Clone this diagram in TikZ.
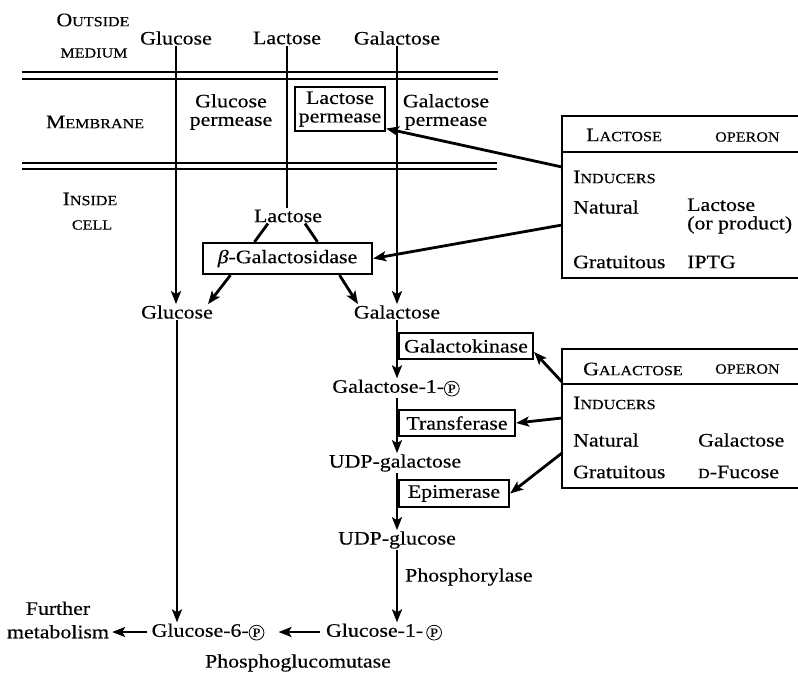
\documentclass[tikz,border=0pt]{standalone}
\usepackage{fontspec}
\setmainfont[FakeStretch=1.15,FakeBold=0.4]{Liberation Serif}
\usetikzlibrary{arrows.meta,calc}
\newcommand{\bodyf}{\fontsize{19}{18.5}\selectfont}
\newcommand{\capi}[2]{{\fontsize{19}{19}\selectfont #1\fontsize{14}{14}\selectfont #2}}
\newcommand{\scp}[1]{{\fontsize{14}{14}\selectfont #1}}
\newcommand{\circP}{\tikz[baseline=(cp.base)]\node[circle, draw, line width=0.8pt, inner sep=1.2pt, font=\fontsize{12.5}{12.5}\selectfont] (cp) {P};}
\begin{document}
\begin{tikzpicture}[x=1pt,y=-1pt,
  lbl/.style={font=\bodyf, inner sep=1pt, align=center},
  enz/.style={draw, line width=2.2pt, font=\bodyf, inner sep=0pt, align=center},
  flow/.style={line width=2.8pt, -{Stealth[length=13pt,width=10pt,inset=3pt]}},
  plain/.style={line width=2.8pt},
  mem/.style={line width=2.6pt},
  boxline/.style={line width=2.2pt}]
\useasboundingbox (0,0) rectangle (798,673);

% membrane
\draw[mem] (22,72) -- (498,72);
\draw[mem] (22,79) -- (498,79);
\draw[mem] (22,163) -- (497,163);
\draw[mem] (22,169) -- (497,169);

% labels outside / membrane / inside
\node[lbl] (outside) at (93,20) {\capi{O}{UTSIDE}};
\node[lbl] (medium) at (94,53) {\scp{MEDIUM}};
\node[lbl] (membrane) at (95,122) {\capi{M}{EMBRANE}};
\node[lbl] (inside) at (90,199) {\capi{I}{NSIDE}};
\node[lbl] (cell) at (92,225) {\scp{CELL}};

\node[lbl] (gluTop) at (176,38) {Glucose};
\node[lbl] (lacTop) at (287,38) {Lactose};
\node[lbl] (galTop) at (397,38) {Galactose};

\node[lbl] (gperm) at (231,112) {Glucose\\permease};
\node[enz, minimum width=90, minimum height=44] (lperm) at (340,109) {Lactose\\permease};
\node[lbl] (galperm) at (446,112) {Galactose\\permease};

\node[lbl] (lacIn) at (288,216) {Lactose};
\node[enz, minimum width=169, minimum height=31] (bgal) at (287.5,258.5) {{\itshape β}-Galactosidase};
\node[lbl] (gluIn) at (177,312) {Glucose};
\node[lbl] (galIn) at (397,312) {Galactose};

\node[enz, minimum width=134, minimum height=26] (gkin) at (466,346) {Galactokinase};
\node[lbl] (g1p) at (396,388) {Galactose-1-\circP};
\node[enz, minimum width=116, minimum height=26] (tran) at (457,423) {Transferase};
\node[lbl] (udpgal) at (395,463) {UDP-galactose};
\node[enz, minimum width=110, minimum height=27] (epi) at (454,493.5) {Epimerase};
\node[lbl] (udpglu) at (397,540) {UDP-glucose};
\node[lbl, anchor=west] (phos) at (404,577) {Phosphorylase};
\node[lbl] (glu1p) at (384,632) {Glucose-1-\,\circP};
\node[lbl] (glu6p) at (208,632) {Glucose-6-\circP};
\node[lbl] (further) at (58,620) {Further\\[5pt]metabolism};
\node[lbl] (pgm) at (298,663) {Phosphoglucomutase};

% lactose operon box
\node[minimum width=236, minimum height=162, anchor=north west, inner sep=0pt, outer sep=0pt] (lacop) at (562,116) {};
\draw[boxline] (lacop.north east) -- (lacop.north west) -- (lacop.south west) -- (lacop.south east);
\draw[boxline] (562,152) -- (798,152);
\node[lbl, anchor=west] (lacT) at (585,135) {\capi{L}{ACTOSE}};
\node[lbl, anchor=west] (lacO) at (714,137) {\scp{OPERON}};
\node[lbl, anchor=west] (lacI) at (572,177) {\capi{I}{NDUCERS}};
\node[lbl, anchor=west] (lacN) at (572,207) {Natural};
\node[lbl, anchor=west, align=left] (lacNv) at (686,216) {Lactose\\(or product)};
\node[lbl, anchor=west] (lacG) at (572,262) {Gratuitous};
\node[lbl, anchor=west] (lacGv) at (686,262) {IPTG};

% galactose operon box
\node[minimum width=236, minimum height=139, anchor=north west, inner sep=0pt, outer sep=0pt] (galop) at (562,349) {};
\draw[boxline] (galop.north east) -- (galop.north west) -- (galop.south west) -- (galop.south east);
\draw[boxline] (562,384) -- (798,384);
\node[lbl, anchor=west] (galT) at (582,369) {\capi{G}{ALACTOSE}};
\node[lbl, anchor=west] (galO) at (714,369) {\scp{OPERON}};
\node[lbl, anchor=west] (galI) at (572,403) {\capi{I}{NDUCERS}};
\node[lbl, anchor=west] (galN) at (572,440) {Natural};
\node[lbl, anchor=west] (galNv) at (697,440) {Galactose};
\node[lbl, anchor=west] (galG) at (572,472) {Gratuitous};
\node[lbl, anchor=west] (galGv) at (697,472) {\scp{D}-Fucose};

\coordinate (la1) at (562,167);
\coordinate (la2) at (562,225);
\coordinate (ga1) at (562,382);
\coordinate (ga2) at (562,418);
\coordinate (ga3) at (562,453);

% main vertical paths
\draw[flow] (gluTop.south) -- (gluTop.south |- gluIn.north);
\draw[plain] (lacTop.south) -- (lacTop.south |- lacIn.north);
\draw[flow] (galTop.south) -- (galTop.south |- galIn.north);

\draw[plain] ([xshift=-20pt]lacIn.south) -- ([xshift=-33pt]bgal.north);
\draw[plain] ([xshift=17pt]lacIn.south) -- ([xshift=30pt]bgal.north);
\draw[flow] ([xshift=-57pt]bgal.south) -- ([xshift=31pt]gluIn.north);
\draw[flow] ([xshift=52pt]bgal.south) -- ([xshift=-39pt]galIn.north);

\draw[flow] (galIn.south) -- (galIn.south |- g1p.north);
\draw[flow] (galIn.south |- g1p.south) -- (galIn.south |- udpgal.north);
\draw[flow] (galIn.south |- udpgal.south) -- (galIn.south |- udpglu.north);
\draw[flow] (galIn.south |- udpglu.south) -- (galIn.south |- glu1p.north);

\draw[flow] (gluIn.south) -- (gluIn.south |- glu6p.north);
\draw[flow] ([xshift=-5pt]glu1p.west) -- ([xshift=13pt]glu6p.east);
\draw[flow] ([xshift=-3pt]glu6p.west) -- ([xshift=2pt]further.east |- glu6p.west);

% operon control arrows
\draw[flow] (la1) -- (lperm.-23);
\draw[flow] (la2) -- (bgal.east);
\draw[flow] (ga1) -- (gkin.-5);
\draw[flow] (ga2) -- (tran.east);
\draw[flow] (ga3) -- (epi.east);
\end{tikzpicture}
\end{document}
